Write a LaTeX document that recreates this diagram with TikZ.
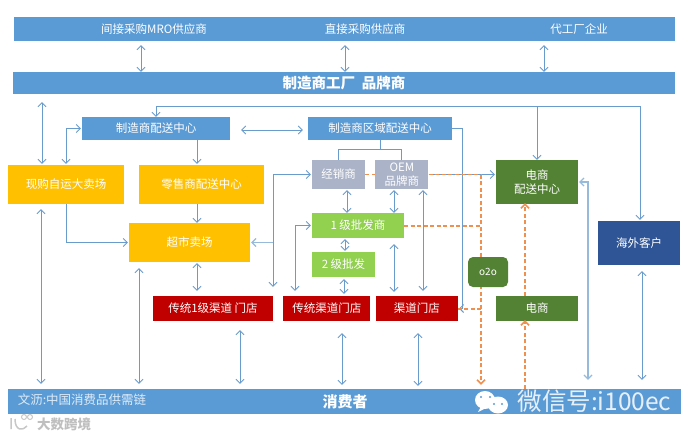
\documentclass[tikz,border=0pt]{standalone}
\usepackage{fontspec}
\setmainfont{Noto Sans CJK SC}
\usepackage{tikz}
\usetikzlibrary{arrows.meta,positioning,calc}
\definecolor{BarBlue}{HTML}{5B9BD5}
\definecolor{FlowBlue}{HTML}{6A9CCB}
\definecolor{Amber}{HTML}{FFC000}
\definecolor{Leaf}{HTML}{92D050}
\definecolor{Slate}{HTML}{ABB3C8}
\definecolor{Crimson}{HTML}{C00000}
\definecolor{Moss}{HTML}{548235}
\definecolor{Navy}{HTML}{2F5597}
\definecolor{Rust}{HTML}{ED7D31}
\tikzset{
  >={Straight Barb[length=4pt,width=8pt]},
  flowbox/.style={fill=#1, text=white, inner sep=0pt, align=center,
    font=\fontsize{11.5}{14}\selectfont},
  flowbox/.default={BarBlue},
  barlabel/.style={text=white, inner sep=0pt, font=\fontsize{11.5}{14}\selectfont},
  flow/.style={color=FlowBlue, line width=0.9pt},
  paleflow/.style={color=FlowBlue!70, line width=1.2pt},
  dashflow/.style={color=Rust!85, dashed, dash pattern=on 4pt off 2.5pt, line width=1.5pt},
  gap/.style n args={2}{shorten <=#1, shorten >=#2},
}
\begin{document}
\begin{tikzpicture}[x=1pt,y=-1pt]
  \useasboundingbox (0,0) rectangle (695,437);
  % guide columns for the arrows that do not leave a box at its middle
  \foreach \n/\x in {xmro/141,xdirect/345,xoem/544,xleft/42,xlow/41,xbig/66,xmdc/156,xretail/197,
    xec/537,xsea/640,xrdc/462,xo2o/481,xecd/525,xecr/588,xover/642,xsuper/139,xtrad/273,
    xshop/240,xtwo/342,xchan/418,xfeed/295,xdist/347,xoemd/394,xone/345,xtier/344,xoemr/423}
    \coordinate (\n) at (\x,0);
  \coordinate (ytop) at (0,106);

  % bars
  \node[flowbox, minimum width=661pt, minimum height=24pt] (topbar) at (344.5,29) {};
  \node[barlabel] (lblmro) at (154,29) {间接采购MRO供应商};
  \node[barlabel] (lbldirect) at (365,29) {直接采购供应商};
  \node[barlabel] (lbloem) at (579,29) {代工厂企业};
  \node[flowbox, minimum width=662pt, minimum height=22pt, font=\fontsize{14.5}{17}\selectfont\bfseries] (mfr) at (344,83) {制造商工厂\ \ 品牌商};
  \node[flowbox, minimum width=673pt, minimum height=25pt] (cons) at (344.5,401.5) {};
  \node[barlabel, font=\fontsize{15}{18}\selectfont\bfseries] (lblcons) at (345,402) {消费者};
  \node[barlabel, text=white!80!BarBlue, font=\fontsize{12.5}{15}\selectfont] (lblsrc) at (82,400) {文沥:中国消费品供需链};

  % distribution centres
  \node[flowbox, minimum width=148pt, minimum height=23pt] (mdc) at (156,128.5) {制造商配送中心};
  \node[flowbox, minimum width=144pt, minimum height=23pt] (rdc) at (380,128.5) {制造商区域配送中心};
  \node[flowbox=Amber, minimum width=116pt, minimum height=39pt] (big) at (66,184.5) {现购自运大卖场};
  \node[flowbox=Amber, minimum width=125pt, minimum height=39pt] (retail) at (201.5,184.5) {零售商配送中心};
  \node[flowbox=Amber, minimum width=121pt, minimum height=39pt] (super) at (189.5,242.5) {超市卖场};

  % wholesale
  \node[flowbox=Slate, minimum width=53pt, minimum height=29pt] (dist) at (338.5,174.5) {经销商};
  \node[flowbox=Slate, minimum width=53pt, minimum height=29pt, right=10pt of dist] (oem) {OEM\\品牌商};
  \node[flowbox=Leaf, minimum width=92pt, minimum height=25pt] (whs1) at (358,225.5) {1 级批发商};
  \node[flowbox=Leaf, minimum width=63pt, minimum height=25pt] (whs2) at (343.5,264.5) {2 级批发};

  % shops
  \node[flowbox=Crimson, minimum width=120pt, minimum height=25pt] (trad1) at (213,308.5) {传统1级渠道 门店};
  \node[flowbox=Crimson, minimum width=87pt, minimum height=25pt, right=10pt of trad1] (trad2) {传统渠道门店};
  \node[flowbox=Crimson, minimum width=82pt, minimum height=25pt, right=5pt of trad2] (chan) {渠道门店};

  % online and overseas
  \node[flowbox=Moss, minimum width=82pt, minimum height=44pt] (ecdc) at (537,182) {电商\\配送中心};
  \node[flowbox=Moss, minimum width=82pt, minimum height=25pt] (ec) at (537,308.5) {电商};
  \node[flowbox=Navy, minimum width=82pt, minimum height=44pt] (sea) at (639,243) {海外客户};

  % upstream
  \draw[flow,<->,gap={4pt}{0pt}] (xmro |- topbar.south) -- (xmro |- mfr.north);
  \draw[flow,<->,gap={4pt}{0pt}] (xdirect |- topbar.south) -- (xdirect |- mfr.north);
  \draw[flow,<->,gap={4pt}{0pt}] (xoem |- topbar.south) -- (xoem |- mfr.north);
  \draw[flow,<->,gap={8pt}{1pt}] (xleft |- mfr.south) -- (xleft |- big.north);
  \draw[flow,<->,gap={5pt}{5pt}] (xlow |- big.south) -- (xlow |- cons.north);

  % factory line
  \draw[flow,->] (xsea |- ytop) -- (xmdc |- ytop) -- (xmdc |- mdc.north);
  \draw[flow,->] (xec |- ytop) -- (xec |- ecdc.north);
  \draw[flow,->,gap={0pt}{1pt}] (xsea |- ytop) -- (xsea |- sea.north);

  % centres to stores
  \draw[flow,<->,gap={1pt}{1pt}] (xbig |- big.north) |- (mdc.west);
  \draw[flow,<->,gap={11pt}{5pt}] ([yshift=-1.5pt]mdc.east) -- ([yshift=-1.5pt]rdc.west);
  \draw[flow,->,gap={0pt}{1pt}] (xretail |- mdc.south) -- (xretail |- retail.north);
  \draw[flow,->] (xretail |- retail.south) -- (xretail |- super.north);
  \draw[flow,->,gap={0pt}{1pt}] (xbig |- big.south) |- (super.west);
  \draw[flow,<->,gap={1pt}{5pt}] (xretail |- super.south) -- (xretail |- trad1.north);
  \draw[flow,<->,gap={6pt}{5pt}] (xsuper |- super.south) -- (xsuper |- cons.north);

  % regional centre
  \draw[flow] (rdc.south) -- ++(0,10);
  \draw[flow] (dist.north) -- ++(0,-10) -| (oem.north);
  \draw[flow,->,gap={0pt}{1pt}] (rdc.east) -- (xrdc |- rdc.east) -- (xrdc |- chan.east) -- (chan.east);
  \draw[flow,<->,gap={1pt}{9pt}] (dist.west) -- (xtrad |- dist.west) -- (xtrad |- trad1.north);
  \draw[paleflow,->,gap={0pt}{1pt}] (xtrad |- super.east) -- (super.east);
  \draw[flow,<->,gap={1pt}{5pt}] (whs1.west) -- (xfeed |- whs1.west) -- (xfeed |- trad2.north);
  \draw[flow,<->,gap={1pt}{0pt}] (xdist |- dist.south) -- (xdist |- whs1.north);
  \draw[flow,<->,gap={1pt}{0pt}] (xoemd |- oem.south) -- (xoemd |- whs1.north);
  \draw[flow,<->,gap={1pt}{1pt}] (xone |- whs1.south) -- (xone |- whs2.north);
  \draw[flow,<->,gap={2pt}{2pt}] (xtier |- whs2.south) -- (xtier |- trad2.north);
  \draw[flow,<->,gap={6pt}{4pt}] (xoemd |- whs1.south) -- (xoemd |- chan.north);
  \draw[flow,<->,gap={1pt}{5pt}] (xoemr |- oem.south) -- (xoemr |- chan.north);

  % to consumers
  \draw[flow,<->,gap={9pt}{5pt}] (xshop |- trad1.south) -- (xshop |- cons.north);
  \draw[flow,<->,gap={12pt}{4pt}] (xtwo |- trad2.south) -- (xtwo |- cons.north);
  \draw[flow,<->,gap={12pt}{3pt}] (xchan |- chan.south) -- (xchan |- cons.north);
  \draw[flow,<->,gap={6pt}{9pt}] (xover |- sea.south) -- (xover |- cons.north);
  \draw[paleflow,<->,gap={1pt}{9pt}] (ecdc.east) -- (xecr |- ecdc.east) -- (xecr |- cons.north);
  \draw[flow,->,gap={0pt}{1pt}] (oem.east) -- (oem.east -| ecdc.west);

  % online routes
  \draw[dashflow] (dist.east) -- (oem.west);
  \draw[dashflow] (oem.east) -- (xo2o |- oem.east);
  \draw[dashflow] ([yshift=-.5pt]whs1.east) -- ([yshift=-.5pt]xo2o |- whs1.east);
  \draw[dashflow] ([yshift=-.5pt]xo2o |- chan.east) -- ([yshift=-.5pt]chan.east);
  \draw[dashflow,->,gap={0pt}{4pt}] (xo2o |- oem.east) -- (xo2o |- cons.north);
  \draw[dashflow,->,gap={0pt}{-1pt}] (xecd |- ec.north) -- (xecd |- ecdc.south);
  \draw[dashflow,->,gap={0pt}{-1pt}] (xecd |- cons.north) -- (xecd |- ec.south);
  \node[flowbox=Moss, rounded corners=5pt, minimum width=40pt, minimum height=30pt, font=\fontsize{10}{12}\selectfont] (o2o) at (488,272) {o2o};

  % marks printed over the picture
  \fill[white] (485,400) ellipse (10pt and 9pt);
  \fill[white] (498,405) ellipse (10pt and 8.5pt);
  \fill[white] (478,412) -- (482,405) -- (486,408) -- cycle;
  \fill[BarBlue] (481,397) circle (1.1pt) (490,397) circle (1.1pt) (494,404) circle (1.1pt) (502,404) circle (1.1pt);
  \node[text=white!85!BarBlue, inner sep=0pt, font=\fontsize{24.5}{28}\selectfont] (markwx) at (594.5,401) {微信号:i100ec};
  \node[text=black!25, inner sep=0pt, font=\fontsize{13.5}{16}\selectfont\bfseries] (markdata) at (64,424) {大数跨境};
  \draw[black!22, line width=1.5pt] (11,418) -- (11,429) (15,419) .. controls (15,431) and (23,431) .. (27,426);
  \draw[black!22, line width=1pt] (24,417) circle (2.5pt) (30,417) circle (2.5pt);
\end{tikzpicture}
\end{document}
